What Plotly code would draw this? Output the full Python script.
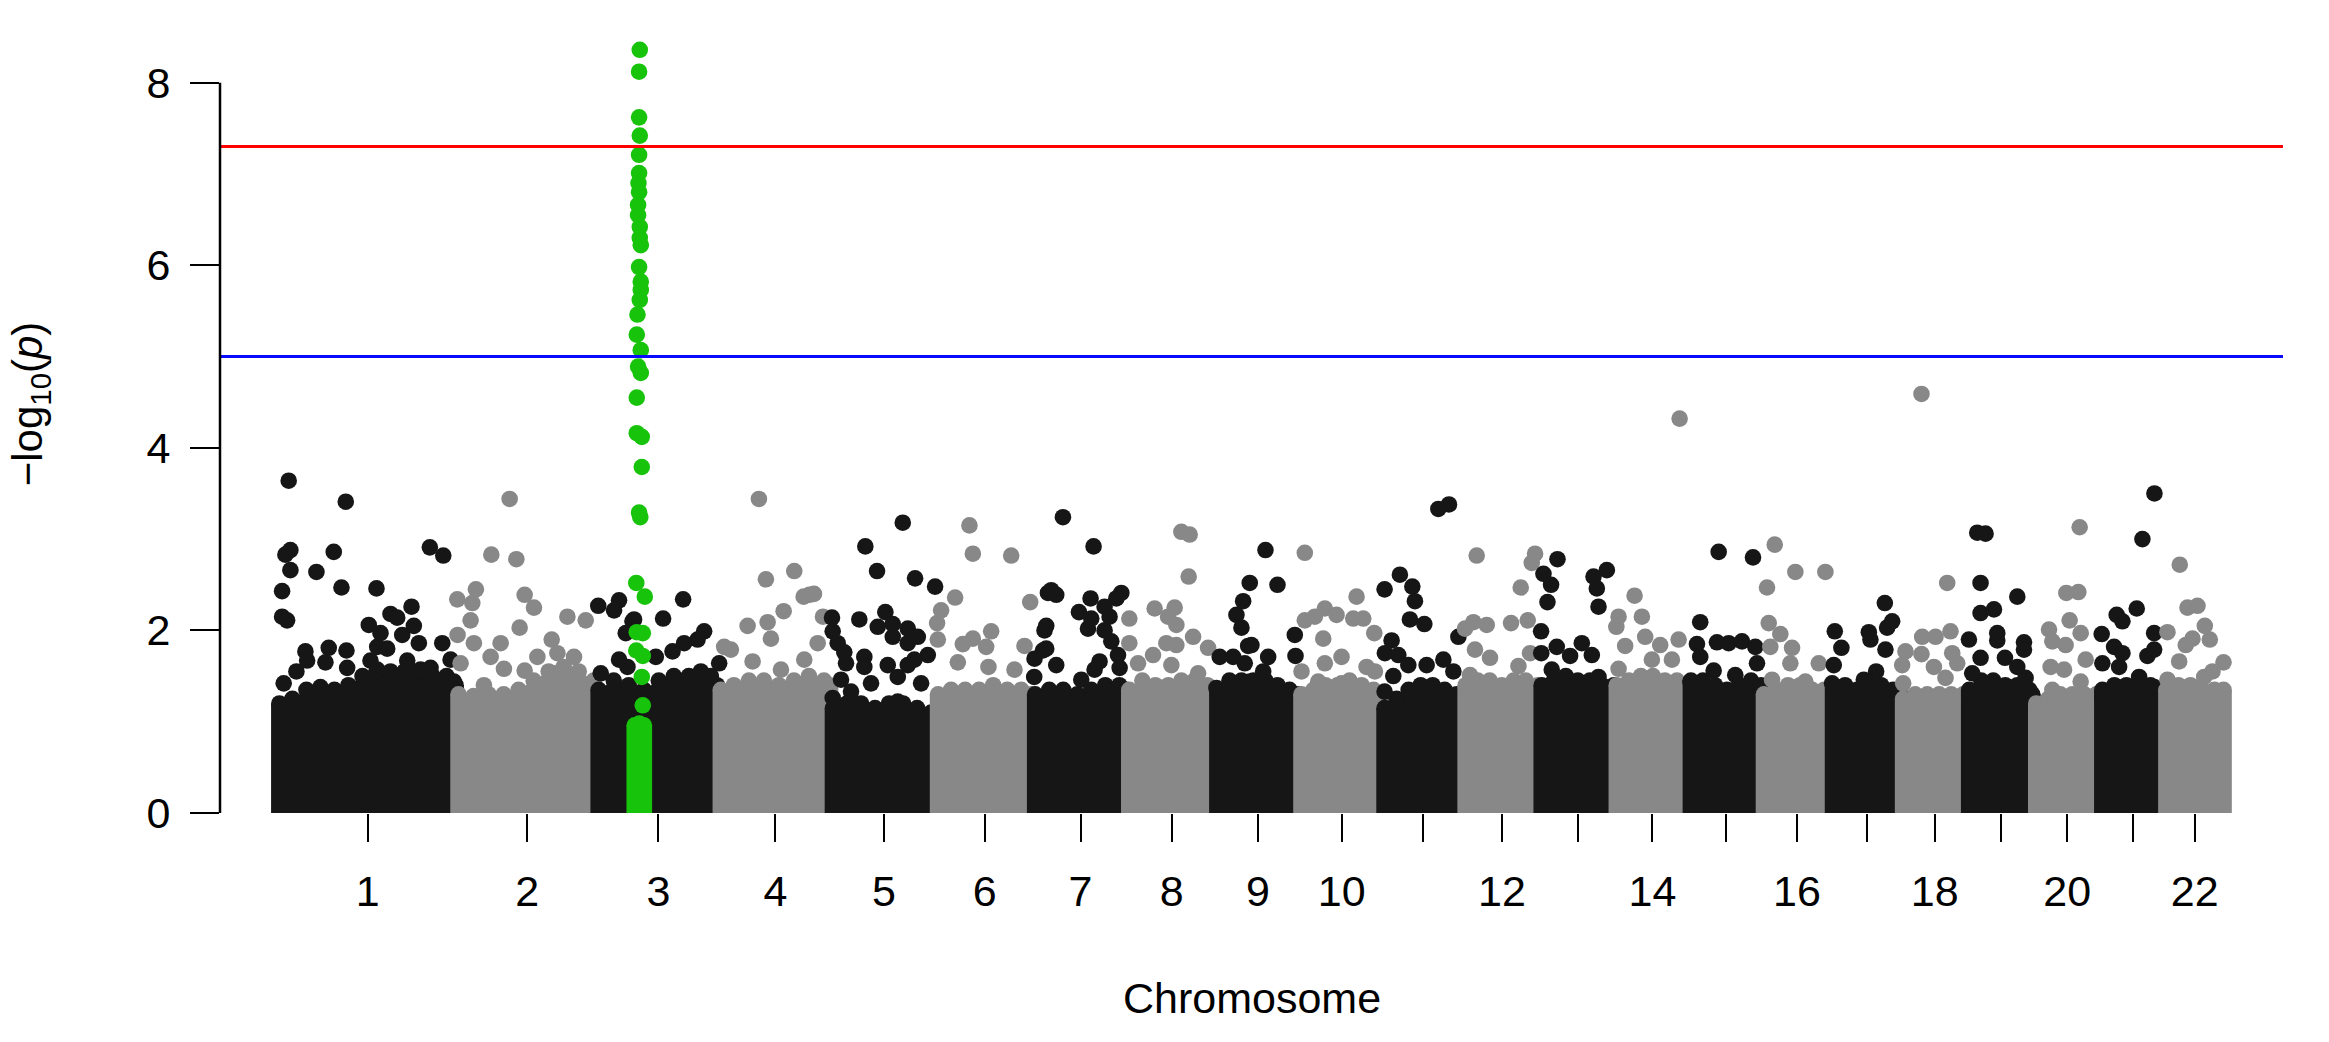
import bisect
import math
import plotly.graph_objects as go

# ---------------- data ----------------
CHR_LABELS = [str(i) for i in range(1, 23)]
# relative width of each chromosome on the cumulative index axis
CHR_WIDTH = [178.2, 140.6, 121.7, 112.0, 104.6, 96.9, 94.5, 87.6, 84.7, 82.7, 80.6,
             76.4, 75.0, 74.0, 72.7, 69.3, 70.0, 66.0, 66.4, 66.1, 64.5, 59.6]
# chromosomes whose tick carries a visible label (others: tick only)
LABELLED = ["1", "2", "3", "4", "5", "6", "7", "8", "9", "10", "12", "14", "16",
            "18", "20", "22"]

SUGGESTIVE = 5.0
GENOMEWIDE = -math.log10(5e-8)

# upper envelope of the dense mass of SNPs (cumulative position, -log10 p)
BAND_POS = [
    1, 14, 28, 42, 56, 70, 84, 98, 112, 126, 140, 154, 168, 177,
    180, 195, 210, 225, 240, 255, 270, 285, 300, 315,
    320, 335, 350, 365, 380, 395, 410, 425, 438,
    442, 455, 470, 485, 500, 515, 530, 545, 551,
    554, 568, 582, 596, 610, 624, 638, 652, 656,
    659, 672, 686, 700, 714, 728, 742, 752,
    756, 770, 784, 798, 812, 826, 840, 847,
    850, 863, 876, 889, 902, 915, 928, 935,
    938, 950, 962, 974, 986, 998, 1010, 1019,
    1022, 1034, 1046, 1058, 1070, 1082, 1094, 1102,
    1105, 1117, 1129, 1141, 1153, 1165, 1177, 1183,
    1186, 1198, 1210, 1222, 1234, 1246, 1258,
    1262, 1274, 1286, 1298, 1310, 1322, 1334,
    1337, 1349, 1361, 1373, 1385, 1397, 1408,
    1411, 1423, 1435, 1447, 1459, 1471, 1481,
    1484, 1496, 1508, 1520, 1532, 1544, 1550,
    1553, 1565, 1577, 1589, 1601, 1613, 1620,
    1623, 1635, 1647, 1659, 1671, 1683, 1686,
    1689, 1701, 1713, 1725, 1737, 1749, 1752,
    1756, 1768, 1780, 1792, 1804, 1816, 1819,
    1822, 1834, 1846, 1858, 1870, 1882,
    1886, 1898, 1910, 1922, 1934, 1943,
]
BAND_TOP = [
    1.20, 1.25, 1.35, 1.38, 1.35, 1.40, 1.50, 1.55, 1.55, 1.55, 1.55, 1.50, 1.50, 1.40,
    1.30, 1.28, 1.30, 1.30, 1.35, 1.45, 1.55, 1.60, 1.55, 1.45,
    1.35, 1.45, 1.40, 1.35, 1.45, 1.50, 1.50, 1.45, 1.40,
    1.35, 1.40, 1.45, 1.45, 1.40, 1.45, 1.50, 1.45, 1.40,
    1.15, 1.20, 1.20, 1.15, 1.20, 1.20, 1.15, 1.10, 1.05,
    1.30, 1.35, 1.35, 1.35, 1.40, 1.35, 1.35, 1.30,
    1.30, 1.35, 1.35, 1.30, 1.35, 1.40, 1.40, 1.35,
    1.35, 1.45, 1.40, 1.40, 1.45, 1.45, 1.40, 1.35,
    1.35, 1.45, 1.45, 1.45, 1.45, 1.40, 1.35, 1.30,
    1.30, 1.35, 1.40, 1.40, 1.45, 1.40, 1.35, 1.30,
    1.15, 1.25, 1.35, 1.40, 1.40, 1.35, 1.30, 1.25,
    1.40, 1.45, 1.45, 1.40, 1.45, 1.45, 1.40,
    1.40, 1.45, 1.50, 1.45, 1.45, 1.40, 1.40,
    1.40, 1.45, 1.50, 1.50, 1.45, 1.45, 1.40,
    1.45, 1.45, 1.40, 1.35, 1.40, 1.45, 1.40,
    1.30, 1.35, 1.40, 1.40, 1.35, 1.35, 1.30,
    1.40, 1.40, 1.35, 1.40, 1.40, 1.35, 1.30,
    1.25, 1.30, 1.30, 1.30, 1.30, 1.30, 1.25,
    1.35, 1.45, 1.45, 1.40, 1.40, 1.35, 1.30,
    1.20, 1.25, 1.30, 1.30, 1.30, 1.30, 1.25,
    1.35, 1.40, 1.40, 1.40, 1.40, 1.35,
    1.35, 1.40, 1.40, 1.35, 1.35, 1.35,
]

# individually visible SNPs above the dense mass
SNP_POS = [
    10.3, 67.3, 12, 7, 55.3, 151.3, 164.7, 12, 38, 3.7, 63, 98, 3.7, 8.7, 133, 112, 118.7,
    90.3, 135.3, 123.7, 140.3, 163.7, 27, 50.3, 68, 5.3, 18, 47, 68.7, 98.7, 102, 152,
    172, 175.3, 28.7, 92, 108.7, 128.7, 142, 98.7,
    231, 212.7, 237.7, 197.3, 178.7, 193.7, 246, 255.3, 192, 288.7, 307, 241, 179,
    195.3, 222, 273, 212, 182, 225.3, 246, 258.7, 278.7, 295.3, 205.3, 275.3,
    319.5, 340.3, 335.3, 353.7, 347, 340.3, 348.7, 322, 404.3, 384.3, 355.3, 425.3,
    418.7, 405.3, 393.7, 377, 440.3, 422, 432,
    480, 515.3, 487, 530.3, 535, 524.7, 504.7, 468.7, 488.7, 492, 445.3, 452, 538.7,
    473.7, 502, 525.3, 544,
    586.3, 598, 623.7, 636, 656, 553, 553.7, 558.7, 565.3, 567, 580.3, 598.7, 606.3,
    613.7, 613.7, 628.7, 628.7, 638.7, 648.7, 585.3, 628.7, 562, 553.7, 618.7, 585.3,
    608.7, 635.3, 592, 618.7, 642, 572,
    690.3, 693.7, 732, 676, 662, 658, 658.7, 751, 712, 693.7, 683.7, 707, 745.3, 678.7,
    709.3, 735.3,
    768.7, 765.3, 763.7, 755.3, 755, 783.7, 814.3, 772, 777, 811.3, 842, 837, 799.7,
    825.3, 767, 808.7, 812, 830.3, 825.3, 832, 838.7, 767, 820.3, 815.3, 840.3, 777, 802,
    902, 910.3, 909.3, 850, 850, 875.3, 895.3, 888.7, 897, 887, 897, 913.7, 928.7, 873.7,
    858.7, 892, 918.7,
    986, 970.3, 998, 963.7, 957, 962, 968.7, 972, 940.3, 953.7, 988.7, 965.3, 983.7,
    1015.3, 1016, 937, 970.3,
    1025.3, 1077, 1025.3, 1035.3, 1045.3, 1057, 1073.7, 1083.7, 1043.7, 1094.7, 1062,
    1045.3, 1022, 1087, 1095.3, 1038.7, 1062, 1082,
    1158.7, 1169.3, 1120.3, 1105, 1132.7, 1135.3, 1130.3, 1144.7, 1112, 1105.3, 1118.7,
    1163.7, 1128.7, 1147, 1173.7, 1113.7, 1105, 1178.7,
    1197, 1255.3, 1252, 1241, 1185.3, 1193.7, 1207, 1231.3, 1248, 1195.3, 1210.3, 1238.7,
    1250.3, 1190.3,
    1277.7, 1263.7, 1271.3, 1267.7, 1327, 1313.7, 1317, 1318.7, 1261.3, 1261.5, 1277,
    1302, 1312, 1290.3, 1272, 1318.7,
    1399.7, 1354.7, 1362, 1338.7, 1336.5, 1345.3, 1365.3, 1380.3, 1398.7, 1372, 1338.7, 1392,
    1438.7, 1473, 1420.3, 1417, 1437, 1448.7, 1462, 1475.3, 1420.3, 1433.7, 1477, 1455.3,
    1410.5,
    1494.7, 1515.3, 1545.3, 1487, 1488.7, 1500.3, 1490.3, 1512, 1510.3, 1538.7, 1492, 1525.3,
    1554.7, 1561.3, 1553.7, 1552, 1588.7, 1604.7, 1612, 1607, 1590.3, 1605.3, 1596, 1583.7,
    1641.3, 1667, 1642, 1655.3, 1670.3, 1625.3, 1641.3, 1672, 1622, 1653.7, 1623, 1665.3, 1677,
    1697, 1705.3, 1700.3, 1737, 1700.3, 1713.7, 1688.7, 1717, 1743.7, 1717, 1743.7, 1724.7,
    1700.3, 1737, 1745.3, 1692,
    1799.3, 1786, 1798, 1768.7, 1789.3, 1800.3, 1772, 1785.3, 1805.3, 1770.3, 1783.7, 1772,
    1800.3,
    1874, 1862, 1856.3, 1836.3, 1842, 1821.3, 1833.7, 1842, 1873.7, 1873.7, 1867, 1822,
    1838.7, 1858.7, 1822, 1873.7,
    1899.3, 1907, 1917, 1924.3, 1887, 1912, 1929.3, 1905.3, 1898.7, 1943, 1923.7, 1932,
    1887, 1902,
]
SNP_LOGP = [
    3.64, 3.41, 2.88, 2.83, 2.86, 2.91, 2.82, 2.66, 2.64, 2.43, 2.47, 2.46, 2.15, 2.11, 2.26, 2.18, 2.14,
    2.06, 2.05, 1.95, 1.86, 1.86, 1.77, 1.81, 1.78, 1.42, 1.55, 1.65, 1.59, 1.82, 1.97, 1.59,
    1.68, 1.44, 1.67, 1.67, 1.80, 1.67, 1.57, 1.57,
    3.44, 2.83, 2.78, 2.45, 2.34, 2.30, 2.39, 2.25, 2.11, 2.15, 2.11, 2.03, 1.95,
    1.86, 1.86, 1.90, 1.71, 1.64, 1.58, 1.56, 1.71, 1.75, 1.71, 1.40, 1.53,
    2.27, 2.33, 2.22, 2.10, 1.97, 1.68, 1.60, 1.53, 2.34, 2.13, 2.12, 1.99,
    1.90, 1.86, 1.77, 1.71, 1.64, 1.55, 1.50,
    3.44, 2.65, 2.56, 2.39, 2.40, 2.37, 2.21, 2.05, 2.09, 1.91, 1.82, 1.79, 1.86,
    1.66, 1.57, 1.68, 2.15,
    2.92, 2.65, 3.18, 2.57, 2.48, 2.14, 1.99, 1.86, 1.76, 1.64, 2.12, 2.04, 2.20,
    2.07, 1.93, 2.02, 1.86, 1.93, 1.73, 1.71, 1.62, 1.46, 1.26, 1.22, 1.60,
    1.62, 1.68, 1.42, 1.49, 1.42, 1.33,
    3.15, 2.84, 2.82, 2.36, 2.22, 2.08, 1.90, 2.31, 1.99, 1.91, 1.85, 1.82, 1.83, 1.65,
    1.60, 1.57,
    2.41, 2.00, 1.78, 1.69, 1.49, 3.24, 2.92, 2.44, 2.39, 2.35, 2.41, 2.35, 2.20,
    2.26, 2.05, 2.02, 2.13, 2.15, 2.00, 1.88, 1.73, 1.80, 1.66, 1.57, 1.59, 1.62, 1.46,
    3.08, 3.05, 2.59, 2.13, 1.86, 2.24, 2.25, 2.15, 2.06, 1.86, 1.84, 1.93, 1.81, 1.73,
    1.64, 1.62, 1.53,
    2.88, 2.52, 2.50, 2.32, 2.17, 2.03, 1.83, 1.84, 1.71, 1.71, 1.71, 1.64, 1.55,
    1.95, 1.72, 1.37, 1.44,
    2.85, 2.37, 2.11, 2.15, 2.24, 2.17, 2.13, 2.13, 1.91, 1.97, 1.71,
    1.64, 1.55, 1.60, 1.55, 1.44, 1.42, 1.35,
    3.33, 3.38, 2.61, 2.45, 2.48, 2.32, 2.12, 2.07, 1.89, 1.75, 1.73,
    1.68, 1.62, 1.62, 1.55, 1.50, 1.33, 1.93,
    2.82, 2.84, 2.74, 2.47, 2.02, 2.09, 2.06, 2.08, 2.11, 1.79, 1.70, 1.61,
    1.75, 1.51,
    2.78, 2.62, 2.50, 2.31, 2.66, 2.59, 2.46, 2.26, 1.99, 1.75, 1.82,
    1.86, 1.73, 1.72, 1.57, 1.49,
    4.32, 2.38, 2.15, 2.15, 2.04, 1.83, 1.93, 1.84, 1.90, 1.68, 1.58, 1.68,
    2.86, 2.80, 2.09, 1.85, 1.87, 1.86, 1.88, 1.82, 1.71, 1.56, 1.64, 1.51,
    1.44,
    2.94, 2.64, 2.64, 2.47, 2.08, 1.96, 1.82, 1.81, 1.64, 1.64, 1.46, 1.44,
    1.99, 1.81, 1.62, 1.42, 1.98, 2.30, 2.10, 2.03, 1.90, 1.79, 1.55, 1.46,
    4.59, 2.52, 1.93, 1.93, 1.99, 1.77, 1.74, 1.75, 1.62, 1.60, 1.42, 1.48, 1.64,
    3.07, 3.06, 2.52, 2.37, 2.19, 2.23, 1.90, 1.97, 1.87, 1.89, 1.79, 1.70,
    1.70, 1.60, 1.48, 1.53,
    3.13, 2.41, 2.42, 2.01, 2.11, 1.97, 1.88, 1.84, 1.68, 1.60, 1.57, 1.35,
    1.44,
    3.50, 3.00, 2.24, 2.17, 2.10, 1.96, 1.82, 1.75, 1.97, 1.79, 1.72, 1.64,
    1.60, 1.49, 1.27, 1.38,
    2.72, 2.25, 2.27, 2.05, 1.98, 1.91, 1.90, 1.84, 1.66, 1.65, 1.49, 1.55,
    1.46, 1.36,
]

# highlighted SNPs (chromosome 3 locus)
HIT_POS = [361, 360.3, 360.3, 361, 360.3, 360.3, 359.7, 360.3, 359.3, 359.3, 361, 361,
           362, 360.3, 362, 362, 361, 358.7, 358, 362, 359.3, 362, 358, 358, 363, 363,
           360.3, 361.5, 357.5, 366, 358, 364, 357.5, 364, 363, 364]
HIT_LOGP = [8.36, 8.12, 7.62, 7.42, 7.21, 7.01, 6.90, 6.80, 6.66, 6.55, 6.42, 6.30,
            6.22, 5.98, 5.82, 5.73, 5.62, 5.46, 5.24, 5.07, 4.89, 4.82, 4.55, 4.16, 4.12, 3.79,
            3.29, 3.24, 2.52, 2.37, 1.98, 1.97, 1.78, 1.72, 1.49, 1.18]
HIT_BAND_POS = [356, 360.5, 365]
HIT_BAND_TOP = [0.96, 0.98, 0.96]

# ---------------- layout helpers ----------------
COLORS = ["#161616", "#888888"]
HIT_COLOR = "#18C40B"
MS = 16.6            # marker diameter (px)
R = MS / 2           # half marker in axis units (axis is ~1 px per unit)
FONT = "Liberation Sans, Arial, Helvetica, sans-serif"

starts = []
acc = 0.0
for w in CHR_WIDTH:
    starts.append(acc)
    acc += w
TOTAL = acc
centers = [s + w / 2 for s, w in zip(starts, CHR_WIDTH)]
major_vals = [c for c, lab in zip(centers, CHR_LABELS) if lab in LABELLED]
major_text = [lab for lab in CHR_LABELS if lab in LABELLED]
minor_vals = [c for c, lab in zip(centers, CHR_LABELS) if lab not in LABELLED]


def chrom_of(p):
    return max(0, bisect.bisect_right(starts, p) - 1)


fig = go.Figure()


def add_group(bx, by, sx, sy, col):
    if bx:
        px = [bx[0] - R] + bx + [bx[-1] + R]
        py = [by[0]] + by + [by[-1]]
        fig.add_trace(go.Scatter(x=px, y=py, mode="lines", line=dict(width=0, color=col),
                                 fill="tozeroy", fillcolor=col, hoverinfo="skip",
                                 showlegend=False))
    fig.add_trace(go.Scatter(x=bx + sx, y=by + sy, mode="markers",
                             marker=dict(size=MS, color=col, line=dict(width=0)),
                             showlegend=False))


for k in range(len(CHR_WIDTH)):
    col = COLORS[k % 2]
    bx = [p for p in BAND_POS if chrom_of(p) == k]
    by = [v for p, v in zip(BAND_POS, BAND_TOP) if chrom_of(p) == k]
    sx = [p for p in SNP_POS if chrom_of(p) == k]
    sy = [v for p, v in zip(SNP_POS, SNP_LOGP) if chrom_of(p) == k]
    add_group(bx, by, sx, sy, col)

add_group(list(HIT_BAND_POS), list(HIT_BAND_TOP), list(HIT_POS), list(HIT_LOGP), HIT_COLOR)

shapes = [
    dict(type="line", xref="paper", x0=0, x1=1, yref="y", y0=GENOMEWIDE, y1=GENOMEWIDE,
         line=dict(color="#FF0000", width=3)),
    dict(type="line", xref="paper", x0=0, x1=1, yref="y", y0=SUGGESTIVE, y1=SUGGESTIVE,
         line=dict(color="#0A0AFF", width=3)),
    dict(type="line", xref="paper", x0=0, x1=0, yref="y", y0=0, y1=8,
         line=dict(color="black", width=2.5)),
]

fig.update_layout(
    width=2329, height=1042,
    margin=dict(l=220, r=46, t=37, b=229),
    paper_bgcolor="white", plot_bgcolor="white",
    font=dict(family=FONT, size=43, color="black"),
    shapes=shapes,
    hovermode=False,
    xaxis=dict(range=[-0.03 * TOTAL, 1.03 * TOTAL], tickmode="array",
               tickvals=major_vals, ticktext=major_text,
               ticks="outside", ticklen=28, tickwidth=2, tickcolor="black",
               minor=dict(tickmode="array", tickvals=minor_vals, ticks="outside",
                          ticklen=28, tickwidth=2, tickcolor="black", showgrid=False),
               showline=False, showgrid=False, zeroline=False,
               tickfont=dict(family=FONT, size=43), ticklabelstandoff=12),
    yaxis=dict(range=[0, 8.5], tickvals=[0, 2, 4, 6, 8], ticktext=["0", "2", "4", "6", "8"],
               ticks="outside", ticklen=29, tickwidth=2, tickcolor="black",
               showline=False, showgrid=False, zeroline=False,
               tickfont=dict(family=FONT, size=43), ticklabelstandoff=11),
    annotations=[
        dict(text="Chromosome", xref="paper", yref="paper", x=0.5, y=-0.2384,
             xanchor="center", yanchor="middle", showarrow=False,
             font=dict(family=FONT, size=43)),
        dict(text="\u2212log<sub>10</sub>(<i>p</i>)", xref="paper", yref="paper",
             x=-0.0921, y=0.528, xanchor="center", yanchor="middle", textangle=-90,
             showarrow=False, font=dict(family=FONT, size=42)),
    ],
)

# remove the default page margin so the figure sits at the window's top-left corner
fig.write_html("out.html",
               config={"displayModeBar": False, "staticPlot": True},
               post_script="document.body.style.margin='0';document.body.style.overflow='hidden';")
